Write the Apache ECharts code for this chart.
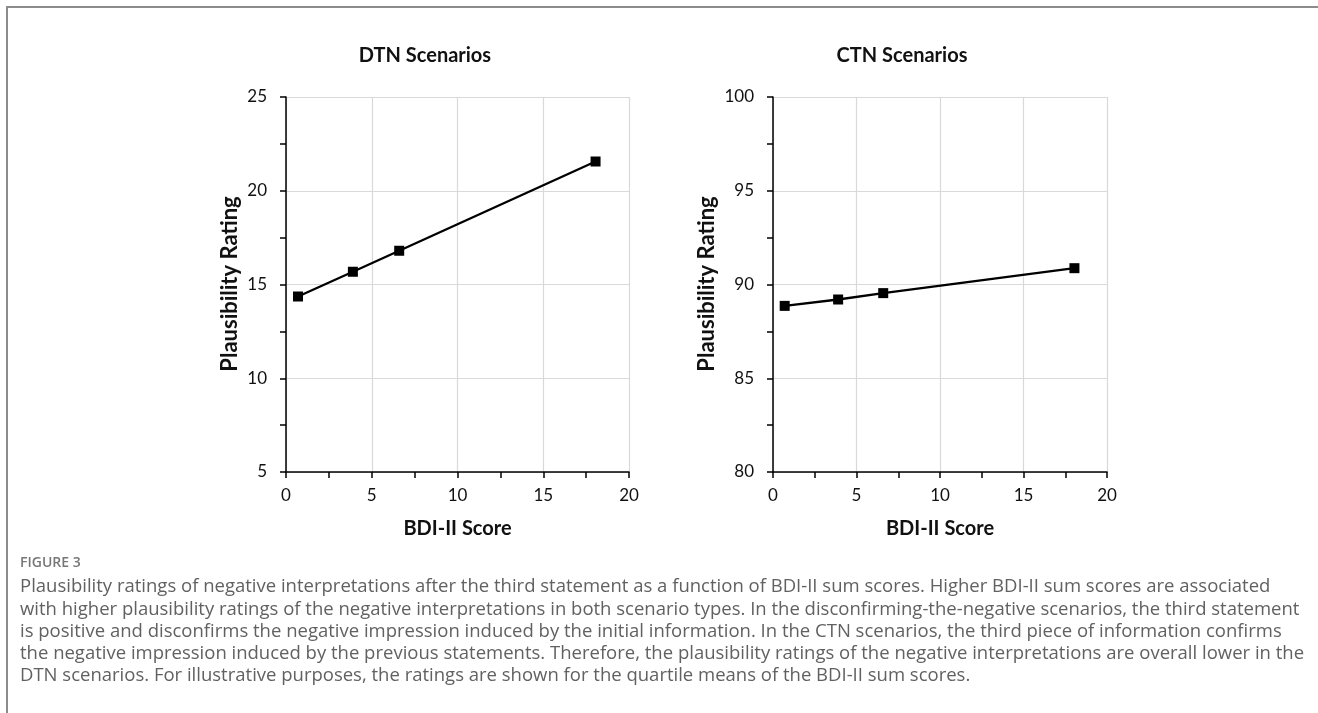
<!DOCTYPE html>
<html>
<head>
<meta charset="utf-8">
<script src="https://cdn.jsdelivr.net/npm/echarts@6/dist/echarts.min.js"></script>
<style>
html,body{margin:0;padding:0;background:#fff;}
#chart{width:1318px;height:713px;}
</style>
</head>
<body>
<div id="chart"></div>
<script>
// ---- data ----
const bdiQuartileMeans = [0.7, 3.9, 6.6, 18.05];
const dtnRatings = [14.36, 15.68, 16.8, 21.56];
const ctnRatings = [88.86, 89.2, 89.54, 90.87];
const panelTitles = ['DTN Scenarios', 'CTN Scenarios'];
const xAxisTitle = 'BDI-II Score';
const yAxisTitle = 'Plausibility Rating';
const captionLabel = 'FIGURE 3';
const captionLines = [
  'Plausibility ratings of negative interpretations after the third statement as a function of BDI-II sum scores. Higher BDI-II sum scores are associated',
  'with higher plausibility ratings of the negative interpretations in both scenario types. In the disconfirming-the-negative scenarios, the third statement',
  'is positive and disconfirms the negative impression induced by the initial information. In the CTN scenarios, the third piece of information confirms',
  'the negative impression induced by the previous statements. Therefore, the plausibility ratings of the negative interpretations are overall lower in the',
  'DTN scenarios. For illustrative purposes, the ratings are shown for the quartile means of the BDI-II sum scores.'
];

const chartFont = 'Lato';
const grids = [
  {left: 286, top: 97, width: 343, height: 375},
  {left: 773, top: 97, width: 334, height: 375}
];

function xAxisCfg(i) {
  return {
    type: 'value', gridIndex: i, min: 0, max: 20, interval: 5,
    axisLine: {show: true, onZero: false, lineStyle: {color: '#000', width: 1.5}},
    axisTick: {show: true, inside: false, length: 6, lineStyle: {color: '#000', width: 1.5}},
    minorTick: {show: true, splitNumber: 2, length: 6, lineStyle: {color: '#000', width: 1.5}},
    splitLine: {show: true, lineStyle: {color: '#d9d9d9', width: 1.2}},
    axisLabel: {color: '#111', fontFamily: chartFont, fontSize: 17, margin: 15}
  };
}
function yAxisCfg(i, min, max) {
  return {
    type: 'value', gridIndex: i, min: min, max: max, interval: 5,
    axisLine: {show: true, onZero: false, lineStyle: {color: '#000', width: 1.5}},
    axisTick: {show: true, inside: false, length: 6, lineStyle: {color: '#000', width: 1.5}},
    minorTick: {show: true, splitNumber: 2, length: 6, lineStyle: {color: '#000', width: 1.5}},
    splitLine: {show: true, lineStyle: {color: '#d9d9d9', width: 1.2}},
    axisLabel: {color: '#111', fontFamily: chartFont, fontSize: 17, margin: 19}
  };
}
function seriesCfg(i, vals) {
  return {
    type: 'line', xAxisIndex: i, yAxisIndex: i,
    data: bdiQuartileMeans.map((x, k) => [x, vals[k]]),
    symbol: 'rect', symbolSize: 10,
    itemStyle: {color: '#000'},
    lineStyle: {color: '#000', width: 2.3},
    animation: false, silent: true
  };
}

const titleCenters = [425, 902];
const yTitleX = [230, 707];
const graphics = [];
// frame
graphics.push({type: 'line', shape: {x1: 7, y1: 7, x2: 1318, y2: 7}, style: {stroke: '#8c8c8c', lineWidth: 2}});
graphics.push({type: 'line', shape: {x1: 7, y1: 6, x2: 7, y2: 713}, style: {stroke: '#8c8c8c', lineWidth: 2}});
for (let i = 0; i < 2; i++) {
  const g = grids[i];
  graphics.push({type: 'text', x: titleCenters[i], y: 56, style: {text: panelTitles[i], font: 'bold 20px ' + chartFont, fill: '#111', textAlign: 'center', textVerticalAlign: 'middle'}});
  graphics.push({type: 'text', x: g.left + g.width / 2, y: 529, style: {text: xAxisTitle, font: 'bold 20px ' + chartFont, fill: '#111', textAlign: 'center', textVerticalAlign: 'middle'}});
  graphics.push({type: 'text', x: yTitleX[i], y: 284, rotation: Math.PI / 2, style: {text: yAxisTitle, font: 'bold 22px ' + chartFont, fill: '#111', textAlign: 'center', textVerticalAlign: 'middle'}});
}
// caption
graphics.push({type: 'text', x: 20, y: 563, style: {text: captionLabel, font: '600 14px "Open Sans"', fill: '#777', textAlign: 'left', textVerticalAlign: 'middle'}});
captionLines.forEach((line, k) => {
  graphics.push({type: 'text', x: 20, y: 587 + k * 22.3, style: {text: line, font: '18.5px "Open Sans"', fill: '#616161', textAlign: 'left', textVerticalAlign: 'middle'}});
});

const chart = echarts.init(document.getElementById('chart'), null, {renderer: 'canvas'});
chart.setOption({
  backgroundColor: '#fff',
  animation: false,
  grid: grids.map(g => Object.assign({containLabel: false}, g)),
  xAxis: [xAxisCfg(0), xAxisCfg(1)],
  yAxis: [yAxisCfg(0, 5, 25), yAxisCfg(1, 80, 100)],
  series: [seriesCfg(0, dtnRatings), seriesCfg(1, ctnRatings)],
  graphic: graphics
});
</script>
</body>
</html>
